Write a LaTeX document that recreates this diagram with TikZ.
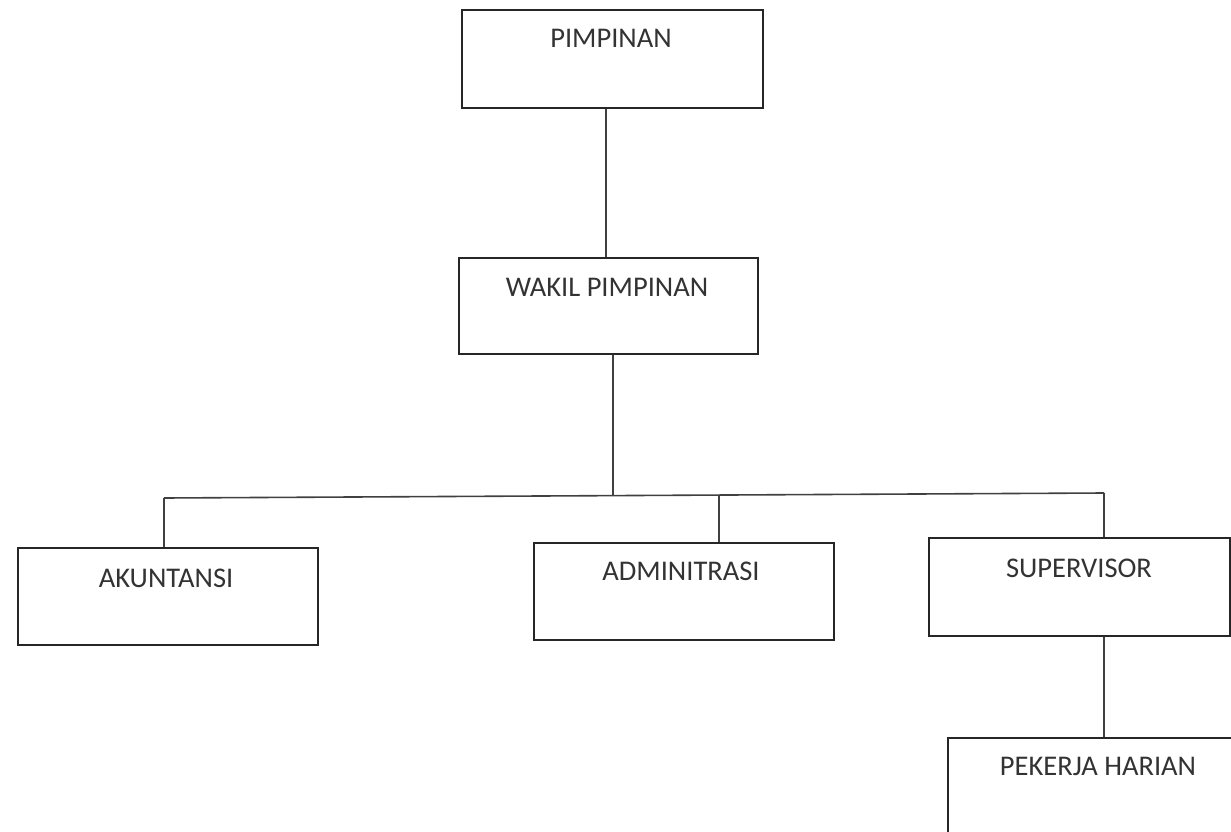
\documentclass[tikz,border=0pt]{standalone}
\usepackage{fontspec}
\setmainfont{Carlito}
\begin{document}
\begin{tikzpicture}[x=1pt,y=-1pt,
  box/.style={draw=black!85,line width=1.6pt,inner sep=0pt,anchor=north west},
  lbl/.style={inner sep=0pt,text=black!80,font=\fontsize{28.5}{34}\selectfont},
  conn/.style={draw=black!75,line width=1.6pt}]
\useasboundingbox (0,0) rectangle (1231,832);
\clip (0,0) rectangle (1231,832);
% boxes
\node[box,minimum width=301pt,minimum height=98pt] (pim) at (461,9) {};
\node[box,minimum width=299pt,minimum height=96pt] (wak) at (458,257) {};
\node[box,minimum width=300pt,minimum height=97pt] (aku) at (17,547) {};
\node[box,minimum width=300pt,minimum height=97pt] (adm) at (533,542) {};
\node[box,minimum width=301pt,minimum height=98pt] (sup) at (928,537) {};
\node[box,minimum width=302pt,minimum height=130pt] (pek) at (947,737) {};
% labels
\node[lbl] (tpim) at (611,38) {PIMPINAN};
\node[lbl] (twak) at (607,287) {WAKIL PIMPINAN};
\node[lbl] (taku) at (166,578) {AKUNTANSI};
\node[lbl] (tadm) at (681,571) {ADMINITRASI};
\node[lbl] (tsup) at (1079,568) {SUPERVISOR};
\node[lbl] (tpek) at (1098,766) {PEKERJA HARIAN};
% junctions
\coordinate (hl) at (164,498);
\coordinate (hr) at (1104,493);
\coordinate (jw) at (613,496);
\coordinate (ja) at (719,495);
% connectors
\draw[conn] (pim.south -| 606,0) -- (wak.north -| 606,0);
\draw[conn] (wak.south -| jw) -- (jw);
\draw[conn] (hl) -- (hr);
\draw[conn] (hl) -- (aku.north -| hl);
\draw[conn] (ja) -- (adm.north -| ja);
\draw[conn] (hr) -- (sup.north -| hr);
\draw[conn] (sup.south -| hr) -- (pek.north -| hr);
\end{tikzpicture}
\end{document}
